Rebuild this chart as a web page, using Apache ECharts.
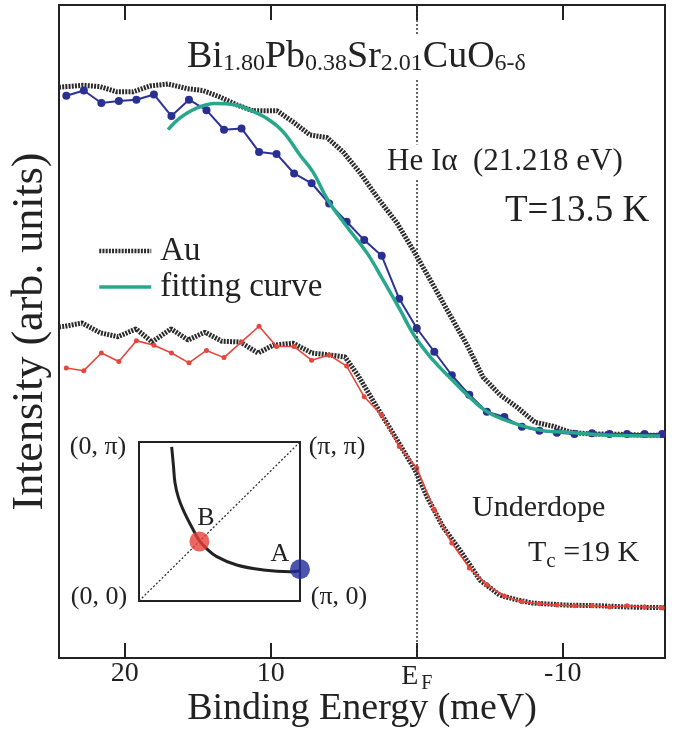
<!DOCTYPE html>
<html>
<head>
<meta charset="utf-8">
<script src="https://cdn.jsdelivr.net/npm/echarts@6/dist/echarts.min.js"></script>
<style>html,body{margin:0;padding:0;background:#fff;}#c{width:678px;height:730px;}</style>
</head>
<body>
<div id="c"></div>
<script>
// ---- data (binding energy in meV, intensity in arb. units) ----
const energyGrid = [24, 22.8, 21.6, 20.4, 19.2, 18, 16.8, 15.6, 14.4, 13.2, 12, 10.8, 9.6, 8.4, 7.2, 6, 4.8, 3.6, 2.4, 1.2, 0,
  -1.2, -2.4, -3.6, -4.8, -6, -7.2, -8.4, -9.6, -10.8, -12, -13.2, -14.4, -15.6, -16.8];
const spectrumA = [86.1, 86.9, 85.0, 85.3, 85.5, 86.3, 83.0, 85.5, 83.9, 80.9, 81.1, 77.5, 77.2, 74.2, 72.7, 69.6, 66.8, 64.0, 61.6, 55.0, 50.5,
  46.9, 43.3, 40.3, 37.7, 36.9, 35.4, 34.8, 34.5, 34.3, 34.4, 34.3, 34.3, 34.3, 34.3];
const spectrumB = [44.4, 44.0, 46.7, 45.4, 48.6, 47.9, 46.7, 45.2, 47.1, 46.0, 48.4, 50.8, 47.7, 47.7, 45.6, 46.4, 44.7, 40.0, 37.2, 32.4, 29.1,
  22.7, 17.6, 13.8, 11.2, 9.5, 8.6, 8.3, 8.1, 8.0, 8.0, 7.8, 8.0, 7.8, 7.7];

const auTopE = [24.5, 22.86, 21.7, 20.53, 19.43, 18.27, 17.03, 15.73, 14.64, 13.47, 12.31, 11.21, 9.57, 8.47, 7.31, 6.15, 5.05, 3.88, 2.72, 1.35, 0.12,
  -1.05, -2.28, -3.45, -4.54, -5.7, -6.87, -8.1, -9.33, -10.5, -11.87, -13.24, -14.61, -15.98, -17.0];
const auTopI = [87.4, 87.7, 87.5, 86.7, 86.7, 87.6, 87.9, 87.2, 86.9, 85.9, 84.7, 83.8, 83.8, 82.1, 80.1, 79.7, 77.5, 74.3, 70.6, 66.6, 62.0,
  57.4, 52.5, 47.9, 43.0, 40.3, 38.4, 36.1, 35.5, 34.6, 34.3, 34.3, 34.2, 34.1, 34.1];

const auBotE = [24.5, 24.09, 22.92, 21.68, 20.46, 19.22, 18.13, 16.83, 15.66, 14.5, 13.34, 12.1, 10.87, 9.84, 8.47, 7.17, 5.94, 4.91, 4.0, 2.72, 1.35, 0.12,
  -0.7, -1.79, -2.96, -4.34, -5.7, -6.87, -7.97, -10.25, -12.51, -14.57, -17.0];
const auBotI = [50.7, 50.8, 51.3, 49.8, 49.2, 50.4, 48.4, 50.4, 48.7, 49.9, 48.5, 48.4, 46.7, 47.9, 48.2, 46.7, 46.4, 46.1, 43.2, 38.4, 33.4, 28.8,
  24.7, 20.1, 16.5, 11.9, 9.6, 8.9, 8.4, 8.1, 8.0, 7.8, 7.7];

const fitE = [17.03, 16.21, 15.18, 13.82, 12.44, 11.42, 10.18, 9.16, 7.99, 7.1, 6.08, 4.77, 3.4, 2.31, 1.14, 0.12,
  -1.12, -2.28, -3.45, -4.82, -6.6, -8.45, -10.71, -13.24, -16.66];
const fitI = [80.9, 82.7, 84.1, 84.9, 84.7, 83.9, 82.5, 80.6, 77.0, 74.4, 70.1, 66.0, 62.0, 57.9, 53.3, 49.2,
  45.6, 42.9, 40.3, 37.7, 36.0, 34.9, 34.5, 34.1, 34.0];

const xTicks = [20, 10, 0, -10];

// inset: Fermi surface in units of pi
const arcKx = [0.203, 0.214, 0.224, 0.245, 0.275, 0.337, 0.375, 0.42, 0.483, 0.607, 0.772, 0.938, 1.0];
const arcKy = [0.97, 0.85, 0.74, 0.65, 0.572, 0.447, 0.38, 0.33, 0.279, 0.226, 0.195, 0.184, 0.19];
const pointA = [1.0, 0.2];
const pointB = [0.375, 0.375];
const diagonal = [[0, 0], [1, 1]];

const zip = (a, b) => a.map((v, i) => [v, b[i]]);
const FONT = "'Liberation Serif', 'DejaVu Serif', 'Times New Roman', serif";
const INK = '#222';
const AU_COLOR = '#2b2b2b';
const FIT_COLOR = '#27a88c';

const chart = echarts.init(document.getElementById('c'), null, {renderer: 'canvas'});

const option = {
  backgroundColor: '#fff',
  animation: false,
  grid: [
    {left: 59, right: 13, top: 5, bottom: 72, show: true, borderColor: INK, borderWidth: 2, backgroundColor: 'transparent',
     containLabel: false, outerBoundsMode: 'none'},
    {left: 139, top: 442, width: 161, height: 159, show: true, borderColor: INK, borderWidth: 2, backgroundColor: 'transparent',
     containLabel: false, outerBoundsMode: 'none'}
  ],
  xAxis: [
    {
      type: 'value', gridIndex: 0, position: 'bottom', min: -17, max: 24.5, inverse: true,
      axisLine: {show: true, onZero: false, lineStyle: {color: INK, width: 2}},
      splitLine: {show: false},
      axisTick: {show: true, inside: true, length: 15, customValues: xTicks, lineStyle: {color: INK, width: 2}},
      name: 'Binding Energy (meV)', nameLocation: 'middle', nameGap: 32, nameMoveOverlap: false,
      nameTextStyle: {fontFamily: FONT, fontSize: 38, color: INK},
      axisLabel: {
        show: true, customValues: xTicks, margin: 2, color: INK, fontFamily: FONT, fontSize: 28,
        formatter: v => v === 0 ? '{e|E}{f|F}' : String(v),
        rich: {
          e: {fontFamily: FONT, fontSize: 28, color: INK},
          f: {fontFamily: FONT, fontSize: 20, color: INK, padding: [14, 0, 0, 3]}
        }
      }
    },
    {
      type: 'value', gridIndex: 0, position: 'top', min: -17, max: 24.5, inverse: true,
      axisLine: {show: true, onZero: false, lineStyle: {color: INK, width: 2}},
      splitLine: {show: false},
      axisTick: {show: true, inside: true, length: 15, customValues: xTicks, lineStyle: {color: INK, width: 2}},
      axisLabel: {show: true, customValues: xTicks, formatter: () => '', fontSize: 1, margin: 0}
    },
    {type: 'value', gridIndex: 1, min: 0, max: 1, show: false}
  ],
  yAxis: [
    {type: 'value', gridIndex: 0, min: 0, max: 100,
     axisLine: {show: false}, axisTick: {show: false}, axisLabel: {show: false}, splitLine: {show: false},
     name: 'Intensity (arb. units)', nameLocation: 'middle', nameGap: 7,
     nameTextStyle: {fontFamily: FONT, fontSize: 44, color: INK}},
    {type: 'value', gridIndex: 1, min: 0, max: 1, show: false}
  ],
  legend: {
    orient: 'vertical', left: 92, top: 229, itemWidth: 52, itemHeight: 14, itemGap: 2,
    selectedMode: false,
    itemStyle: {opacity: 0},
    data: [
      {name: 'Au', itemStyle: {opacity: 0}, lineStyle: {color: AU_COLOR, width: 4.5, type: [2, 1.2]}},
      {name: 'fitting curve', itemStyle: {opacity: 0}, lineStyle: {color: FIT_COLOR, width: 3.5}}
    ],
    textStyle: {fontFamily: FONT, fontSize: 33, color: INK, lineHeight: 34, padding: [0, 0, 0, 4]}
  },
  series: [
    {
      name: 'Au', type: 'line', xAxisIndex: 0, yAxisIndex: 0, data: zip(auTopE, auTopI),
      symbol: 'none', lineStyle: {color: AU_COLOR, width: 5, type: [2, 1.2]}, itemStyle: {color: AU_COLOR}, z: 2,
      markLine: {
        silent: true, symbol: 'none', label: {show: false},
        lineStyle: {color: '#333', width: 1.5, type: [2, 2]},
        data: [{xAxis: 0}]
      }
    },
    {
      name: 'Au', type: 'line', xAxisIndex: 0, yAxisIndex: 0, data: zip(auBotE, auBotI),
      symbol: 'none', lineStyle: {color: AU_COLOR, width: 5, type: [2, 1.2]}, itemStyle: {color: AU_COLOR}, z: 2
    },
    {
      name: 'A', type: 'line', xAxisIndex: 0, yAxisIndex: 0, data: zip(energyGrid, spectrumA),
      symbol: 'circle', symbolSize: 8, lineStyle: {color: '#2d3296', width: 2},
      itemStyle: {color: '#2a2f92'}, z: 3
    },
    {
      name: 'B', type: 'line', xAxisIndex: 0, yAxisIndex: 0, data: zip(energyGrid, spectrumB),
      symbol: 'circle', symbolSize: 5, lineStyle: {color: '#e5473d', width: 1.6},
      itemStyle: {color: '#e5473d'}, z: 3
    },
    {
      name: 'fitting curve', type: 'line', xAxisIndex: 0, yAxisIndex: 0, data: zip(fitE, fitI),
      symbol: 'none', smooth: 0.4, lineStyle: {color: FIT_COLOR, width: 3.5},
      itemStyle: {color: FIT_COLOR}, z: 4
    },
    // inset
    {
      type: 'line', xAxisIndex: 2, yAxisIndex: 1, data: diagonal, symbol: 'none',
      lineStyle: {color: '#333', width: 1.3, type: [2, 2]}, z: 5
    },
    {
      type: 'line', xAxisIndex: 2, yAxisIndex: 1, data: zip(arcKx, arcKy), symbol: 'none', smooth: 0.4,
      lineStyle: {color: INK, width: 3}, z: 5
    },
    {
      type: 'scatter', xAxisIndex: 2, yAxisIndex: 1, data: [pointB], symbolSize: 20,
      itemStyle: {color: '#e8403a'}, z: 6
    },
    {
      type: 'scatter', xAxisIndex: 2, yAxisIndex: 1, data: [pointA], symbolSize: 20,
      itemStyle: {color: '#1f2a9a'}, z: 6
    }
  ],
  graphic: [
    {type: 'text', z: 100, x: 185, y: 56, style: {
      text: '{b|Bi}{s|1.80}{b|Pb}{s|0.38}{b|Sr}{s|2.01}{b|CuO}{s|6-δ}',
      verticalAlign: 'middle', backgroundColor: '#fff', padding: [2, 2],
      rich: {
        b: {fontFamily: FONT, fontSize: 38, fill: INK, verticalAlign: 'bottom', lineHeight: 40},
        s: {fontFamily: FONT, fontSize: 24, fill: INK, verticalAlign: 'bottom', lineHeight: 38}
      }}},
    {type: 'text', z: 100, x: 385, y: 162, style: {
      text: 'He Iα  (21.218 eV)', font: '31px ' + FONT, fill: INK, verticalAlign: 'middle',
      backgroundColor: '#fff', padding: [2, 2]}},
    {type: 'text', z: 100, x: 505, y: 211, style: {
      text: 'T=13.5 K', font: '37px ' + FONT, fill: INK, verticalAlign: 'middle'}},
    {type: 'text', z: 100, x: 472, y: 508, style: {
      text: 'Underdope', font: '30px ' + FONT, fill: INK, verticalAlign: 'middle'}},
    {type: 'text', z: 100, x: 528, y: 553, style: {
      text: '{t|T}{c|c}{t| =19 K}', verticalAlign: 'middle',
      rich: {
        t: {fontFamily: FONT, fontSize: 30, fill: INK},
        c: {fontFamily: FONT, fontSize: 21, fill: INK, padding: [16, 0, 0, 0]}
      }}},
    {type: 'text', z: 100, x: 98, y: 447, style: {text: '(0, π)', font: '26px ' + FONT, fill: INK, align: 'center', verticalAlign: 'middle'}},
    {type: 'text', z: 100, x: 337, y: 447, style: {text: '(π, π)', font: '26px ' + FONT, fill: INK, align: 'center', verticalAlign: 'middle'}},
    {type: 'text', z: 100, x: 99, y: 597, style: {text: '(0, 0)', font: '26px ' + FONT, fill: INK, align: 'center', verticalAlign: 'middle'}},
    {type: 'text', z: 100, x: 339, y: 597, style: {text: '(π, 0)', font: '26px ' + FONT, fill: INK, align: 'center', verticalAlign: 'middle'}},
    {type: 'text', z: 100, x: 206, y: 518, style: {text: 'B', font: '26px ' + FONT, fill: INK, align: 'center', verticalAlign: 'middle'}},
    {type: 'text', z: 100, x: 280, y: 554, style: {text: 'A', font: '26px ' + FONT, fill: INK, align: 'center', verticalAlign: 'middle'}}
  ]
};
chart.setOption(option);
</script>
</body>
</html>
